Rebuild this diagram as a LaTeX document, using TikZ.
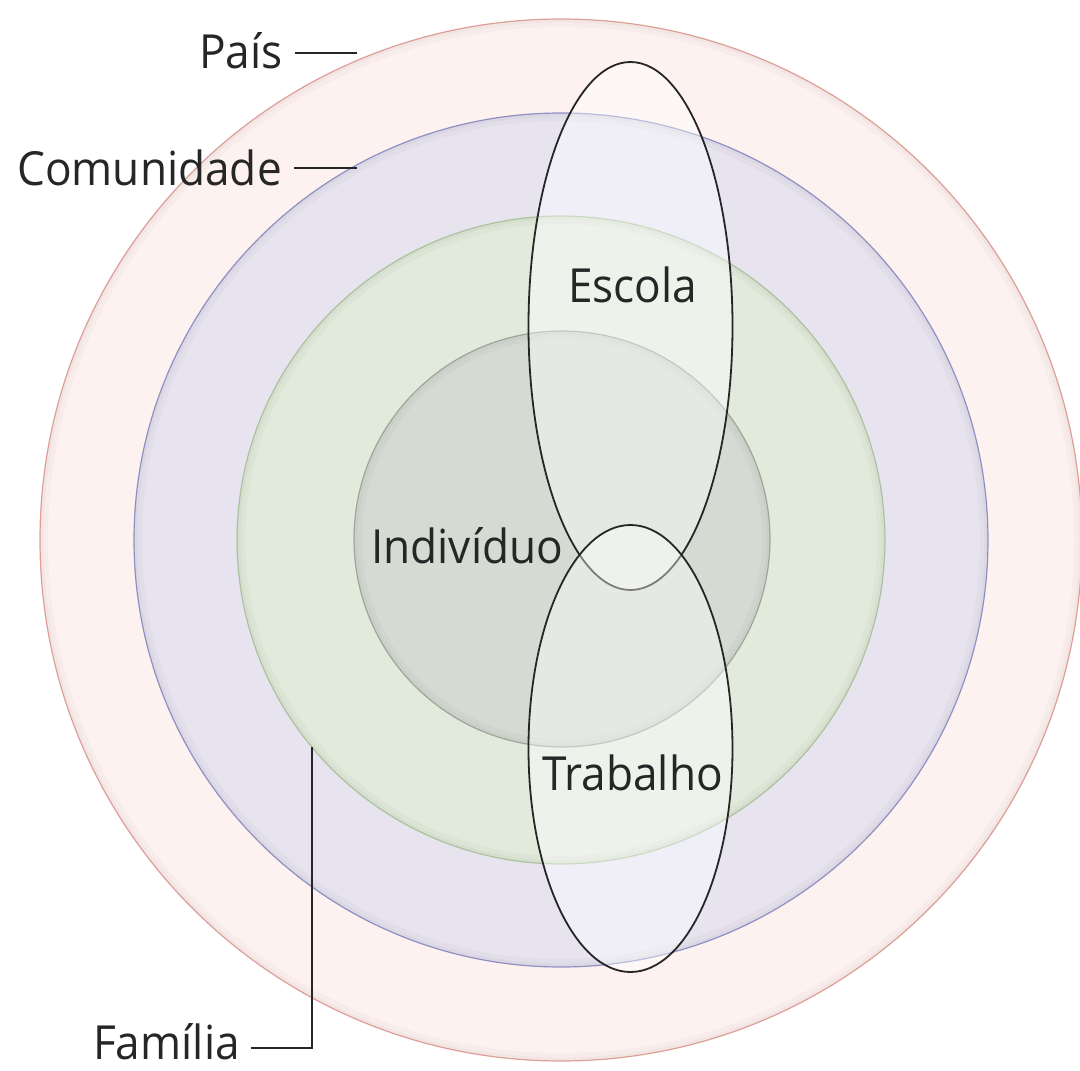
\documentclass[tikz,border=0pt]{standalone}
\usepackage{fontspec}
\setmainfont{Open Sans}[FakeStretch=0.94]
\usetikzlibrary{calc,shapes.geometric}

\definecolor{paisFill}{HTML}{FDF2EF}
\definecolor{paisLine}{HTML}{E5A49C}
\definecolor{comFill}{HTML}{E7E4F0}
\definecolor{comLine}{HTML}{9494CA}
\definecolor{famFill}{HTML}{E2EADC}
\definecolor{famLine}{HTML}{B0C8A3}
\definecolor{indFill}{HTML}{D5DBD2}
\definecolor{indLine}{HTML}{A2AC9E}
\definecolor{txt}{HTML}{262626}

% soft darkening just inside the rim of a ring
\newcommand{\ringshade}[2]{%
  \begin{scope}
    \clip (#1.center) circle (#2);
    \draw[black, opacity=0.025, line width=16pt] (#1.center) circle (#2);
    \draw[black, opacity=0.025, line width=7pt] (#1.center) circle (#2);
  \end{scope}}

\begin{document}
\begin{tikzpicture}[x=1pt, y=-1pt,
  ring/.style={circle, inner sep=0pt, line width=1.2pt},
  sphere/.style={ellipse, draw=black!85, line width=1.8pt, fill=white,
                 fill opacity=0.4, inner sep=0pt},
  lbl/.style={font=\fontsize{47}{56}\selectfont, text=txt, inner sep=0pt},
  leader/.style={draw=black!85, line width=2pt}]
\useasboundingbox (0,0) rectangle (1080,1071);
\fill[white] (0,0) rectangle (1080,1071);

% nested rings
\node[ring, minimum size=1042pt, fill=paisFill, draw=paisLine] (pais) at (561,540) {};
\ringshade{pais}{521}
\node[ring, minimum size=854pt, fill=comFill, draw=comLine] (com) at (561,540) {};
\ringshade{com}{427}
\node[ring, minimum size=648pt, fill=famFill, draw=famLine] (fam) at (561,540) {};
\ringshade{fam}{324}
\node[ring, minimum size=416pt, fill=indFill, draw=indLine] (ind) at (562,539) {};
\ringshade{ind}{208}

% school and work spheres
\node[sphere, minimum width=204pt, minimum height=528pt] (escola) at (630.5,326) {};
\node[sphere, minimum width=204pt, minimum height=447pt] (trabalho) at (630.5,748.5) {};

% labels
\node[lbl, anchor=base west] (escolaLbl) at (568,302) {Escola};
\node[lbl, anchor=base west] (trabalhoLbl) at (542,790) {Trabalho};
\node[lbl, anchor=base west] (indLbl) at (371,563) {Indivíduo};
\node[lbl, anchor=base east] (paisLbl) at (283,68) {País};
\node[lbl, anchor=base east] (comLbl) at (282,185) {Comunidade};
\node[lbl, anchor=base west] (famLbl) at (93,1059) {Família};

% leader lines
\coordinate (paisTip) at (357,53);
\coordinate (comTip) at (357,168);
\coordinate (famTip) at (312,747);
\draw[leader] ($(paisTip -| paisLbl.east)+(12,0)$) -- (paisTip);
\draw[leader] ($(comTip -| comLbl.east)+(12,0)$) -- (comTip);
\draw[leader] ($(famLbl.base east)+(11,-11)$) -| (famTip);
\end{tikzpicture}
\end{document}
